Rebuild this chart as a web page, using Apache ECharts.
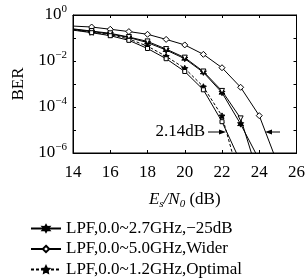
<!DOCTYPE html>
<html>
<head>
  <meta charset="utf-8">
  <title>BER vs Es/N0</title>
  <style>
    html, body { margin: 0; padding: 0; background: #fff; }
    #main { width: 308px; height: 280px; }
  </style>
</head>
<body>
  <div id="main"></div>
  <script src="https://cdn.jsdelivr.net/npm/echarts@6/dist/echarts.min.js"></script>
  <script>
    // Es/N0 (dB)
    const snr = [14, 15, 16, 17, 18, 19, 20, 21, 22, 23, 24, 25];
    // BER (points past 1e-6 only set the slope to the bottom edge)
    const berWider   = [0.33, 0.30, 0.24, 0.19, 0.145, 0.087, 0.050, 0.0195, 5.1e-3, 7.2e-4, 4.2e-5, 3.2e-7];
    const berMinus25 = [0.24, 0.19, 0.15, 0.105, 0.063, 0.030, 0.0126, 3.2e-3, 4.2e-4, 1.8e-5, 5e-7];
    const berMid2    = [0.25, 0.20, 0.16, 0.11, 0.071, 0.033, 0.014, 3.5e-3, 5.0e-4, 3.2e-5, 8e-8];
    const berOptimal = [0.23, 0.18, 0.14, 0.091, 0.044, 0.016, 4.8e-3, 7.6e-4, 4.1e-5, 5e-8];
    const berLeft2   = [0.22, 0.17, 0.126, 0.079, 0.035, 0.0126, 3.5e-3, 5.6e-4, 2.3e-5, 4e-7];
    const legendNames = ['LPF,0.0~2.7GHz,\u221225dB', 'LPF,0.0~5.0GHz,Wider', 'LPF,0.0~1.2GHz,Optimal'];

    const serif = '"Liberation Serif", "DejaVu Serif", serif';
    const burst = 'path://M0,-10 L2.6,-4.5 L8.7,-5 L5.2,0 L8.7,5 L2.6,4.5 L0,10 L-2.6,4.5 L-8.7,5 L-5.2,0 L-8.7,-5 L-2.6,-4.5 Z';
    const star = 'path://M0,-10 L2.9,-4 L9.5,-3.1 L4.7,1.5 L5.9,8.1 L0,5 L-5.9,8.1 L-4.7,1.5 L-9.5,-3.1 L-2.9,-4 Z';

    function pairs(vals) {
      return vals.map((v, i) => (i === 0 ? { value: [snr[i], v], symbol: 'none' } : [snr[i], v]));
    }
    function line(name, vals, symbol, size, filled, dashed) {
      return {
        name: name,
        type: 'line',
        data: pairs(vals),
        symbol: symbol,
        symbolSize: size,
        showAllSymbol: true,
        clip: true,
        animation: false,
        lineStyle: { color: '#000', width: 1, type: dashed ? [3, 2] : 'solid' },
        itemStyle: { color: filled ? '#000' : '#fff', borderColor: '#000', borderWidth: 1 }
      };
    }

    const supLabel = function (value) {
      const e = Math.round(Math.log10(value));
      if (e % 2 !== 0) return '';
      return '{b|10}{s|' + (e === 0 ? '0' : '\u2212' + (-e)) + '}';
    };

    const option = {
      animation: false,
      textStyle: { fontFamily: serif, color: '#000' },
      grid: { left: 73, right: 10, top: 15, bottom: 127, show: true, borderColor: '#000', borderWidth: 1 },
      xAxis: [{
        type: 'value', min: 14, max: 26, interval: 2,
        axisLine: { lineStyle: { color: '#000' } },
        axisTick: { inside: true, length: 3, lineStyle: { color: '#000' } },
        splitLine: { show: false },
        axisLabel: { fontFamily: serif, fontSize: 17, color: '#000', margin: 11 },
        name: '{i|E}{sub|s}{i|/N}{sub|0}{n| (dB)}',
        nameLocation: 'middle', nameGap: 37,
        nameTextStyle: {
          rich: {
            i: { fontFamily: serif, fontStyle: 'italic', fontSize: 17, color: '#000' },
            sub: { fontFamily: serif, fontStyle: 'italic', fontSize: 11, color: '#000', padding: [9, 0, 0, 0] },
            n: { fontFamily: serif, fontSize: 17, color: '#000' }
          }
        }
      }, {
        type: 'value', min: 14, max: 26, interval: 2, position: 'top',
        axisLine: { lineStyle: { color: '#000' } },
        axisTick: { inside: true, length: 3, lineStyle: { color: '#000' } },
        axisLabel: { show: false }, splitLine: { show: false }
      }],
      yAxis: [{
        type: 'log', logBase: 10, min: 1e-6, max: 1, interval: 1,
        axisLine: { show: true, lineStyle: { color: '#000' } },
        axisTick: { show: true, inside: true, length: 3, lineStyle: { color: '#000' } },
        minorTick: { show: false },
        splitLine: { show: false },
        axisLabel: {
          formatter: supLabel, margin: 6,
          rich: {
            b: { fontFamily: serif, fontSize: 17, color: '#000' },
            s: { fontFamily: serif, fontSize: 11, color: '#000', padding: [0, 0, 11, 0] }
          }
        },
        name: 'BER', nameLocation: 'middle', nameGap: 46,
        nameTextStyle: { fontFamily: serif, fontSize: 17, color: '#000' }
      }, {
        type: 'log', logBase: 10, min: 1e-6, max: 1, interval: 1, position: 'right',
        axisLine: { show: true, lineStyle: { color: '#000' } },
        axisTick: { show: true, inside: true, length: 3, lineStyle: { color: '#000' } },
        axisLabel: { show: false }, splitLine: { show: false }
      }],
      legend: {
        data: legendNames,
        orient: 'vertical', left: 30, top: 220, height: 62, padding: 0, itemGap: 3.5,
        itemWidth: 30, itemHeight: 8,
        textStyle: { fontFamily: serif, fontSize: 17, lineHeight: 17, color: '#000' }
      },
      series: [
        line(legendNames[0], berMinus25, burst, 6, true, false),
        line(legendNames[1], berWider, 'diamond', 6, false, false),
        line(legendNames[2], berOptimal, star, 6, true, true),
        line('mid2', berMid2, 'triangle', 5, false, false),
        line('left2', berLeft2, 'rect', 4, false, false)
      ],
      graphic: [
        { type: 'text', x: 205, y: 132, style: { text: '2.14dB', font: '17px ' + serif, fill: '#000', align: 'right', verticalAlign: 'middle' } },
        { type: 'line', shape: { x1: 208, y1: 132, x2: 222, y2: 132 }, style: { stroke: '#000', lineWidth: 1 } },
        { type: 'polygon', shape: { points: [[226, 132], [219, 129.5], [219, 134.5]] }, style: { fill: '#000' } },
        { type: 'line', shape: { x1: 269, y1: 132, x2: 280, y2: 132 }, style: { stroke: '#000', lineWidth: 1 } },
        { type: 'polygon', shape: { points: [[265, 132], [272, 129.5], [272, 134.5]] }, style: { fill: '#000' } }
      ]
    };

    // triangles in the middle group point down
    option.series[3].symbolRotate = 180;

    const chart = echarts.init(document.getElementById('main'), null, { renderer: 'canvas' });
    chart.setOption(option);
  </script>
</body>
</html>
